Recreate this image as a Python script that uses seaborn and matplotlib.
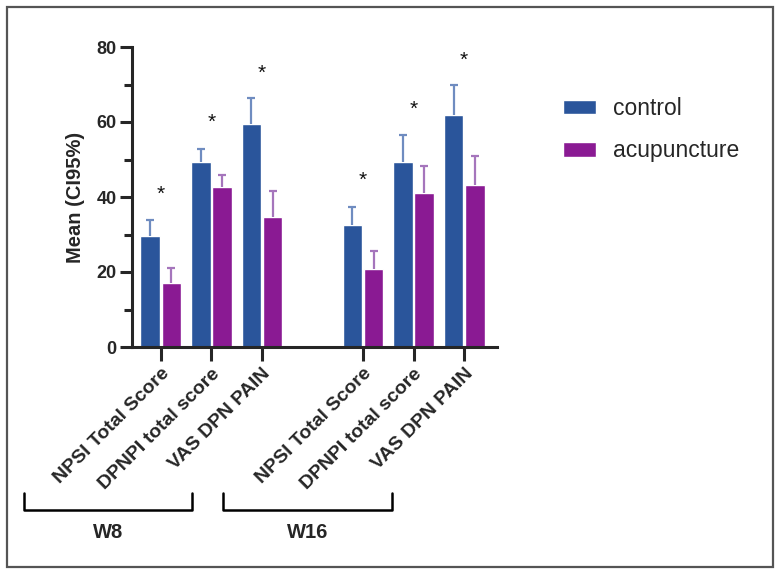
import pandas as pd
import matplotlib
matplotlib.use("Agg")
import matplotlib.pyplot as plt
from matplotlib.lines import Line2D
from matplotlib.patches import Rectangle
from matplotlib.ticker import MultipleLocator
import seaborn as sns

# ── Data ──────────────────────────────────────
MEASURES   = ["NPSI Total Score", "DPNPI total score", "VAS DPN PAIN"]
WEEKS      = ["W8", "W16"]
GROUPS     = ["control", "acupuncture"]

CONTROL_MEAN  = [29.6, 49.3, 59.4, 32.6, 49.3, 61.8]
CONTROL_UPPER = [33.8, 52.7, 66.4, 37.3, 56.5, 69.8]
ACU_MEAN      = [17.1, 42.6, 34.8, 20.8, 41.0, 43.1]
ACU_UPPER     = [21.2, 45.8, 41.6, 25.5, 48.3, 50.9]
STAR_Y        = [41.6, 60.8, 74.0, 45.5, 64.5, 77.5]

COLORS     = {"control": "#2A559B", "acupuncture": "#8A1A93"}
ERR_COLORS = {"control": "#6F8CC0", "acupuncture": "#A575BC"}

# slot order: 3 measures, one empty slot, 3 measures
ORDER = [f"W8|{m}" for m in MEASURES] + ["gap"] + [f"W16|{m}" for m in MEASURES]
keys = [k for k in ORDER if k != "gap"]

df = pd.DataFrame({
    "slot": keys * 2,
    "group": ["control"] * 6 + ["acupuncture"] * 6,
    "mean": CONTROL_MEAN + ACU_MEAN,
    "upper": CONTROL_UPPER + ACU_UPPER,
})

# ── Plot ──────────────────────────────────────
sns.set_style("ticks")
plt.rcParams["font.family"] = ["Liberation Sans", "DejaVu Sans"]

W, H = 782, 574
fig = plt.figure(figsize=(W / 100, H / 100), dpi=100)
ax = fig.add_axes([132 / W, 1 - 347 / H, (497 - 132) / W, (347 - 47) / H])

sns.barplot(data=df, x="slot", y="mean", hue="group", order=ORDER,
            hue_order=GROUPS, palette=COLORS, width=0.84, gap=0.08,
            errorbar=None, saturation=1, legend=True, ax=ax)

# upward-only CI bars, placed on the drawn bars
for cont, grp in zip(ax.containers, GROUPS):
    sub = df[df["group"] == grp].set_index("slot")
    for bar in cont:
        xc = bar.get_x() + bar.get_width() / 2
        slot = ORDER[int(round(xc))]
        m, u = sub.loc[slot, "mean"], sub.loc[slot, "upper"]
        eb = ax.errorbar(xc, m, yerr=[[0], [u - m]], fmt="none",
                         ecolor=ERR_COLORS[grp], elinewidth=1.6, capsize=3,
                         capthick=1.6, zorder=1)
        eb[1][0].set_visible(False)   # no cap at the bar top

# significance stars
for i, k in enumerate(keys):
    ax.text(ORDER.index(k), STAR_Y[i] - 1.0, "*", ha="center", va="center",
            fontsize=15, color="#111111")

ax.set_ylim(0, 80)
ax.set_xlim(-0.57, 6.65)
ax.yaxis.set_major_locator(MultipleLocator(20))
ax.yaxis.set_minor_locator(MultipleLocator(10))
tick_pos = [ORDER.index(k) for k in keys]
ax.set_xticks(tick_pos)
ax.set_xticklabels(MEASURES * 2, rotation=45, ha="right",
                   rotation_mode="anchor", fontsize=14, fontweight="bold")
for lab in ax.get_yticklabels():
    lab.set_fontweight("bold")
ax.tick_params(axis="y", which="major", length=9, width=2.2, labelsize=13, pad=2)
ax.tick_params(axis="y", which="minor", length=6, width=2.2)
ax.tick_params(axis="x", length=10, width=2.2, pad=3)
ax.set_xlabel("")
ax.set_ylabel("Mean (CI95%)", fontsize=14.5, fontweight="bold", labelpad=8)
for s in ["left", "bottom"]:
    ax.spines[s].set_linewidth(2.2)
sns.despine(ax=ax)

# legend
leg = ax.legend(loc="upper left", bbox_to_anchor=(563 / W, 1 - 97 / H),
                bbox_transform=fig.transFigure, frameon=False, fontsize=16.5,
                handlelength=1.45, handleheight=0.6, handletextpad=0.75,
                labelspacing=0.85, borderpad=0, borderaxespad=0)

# week brackets
def fx(px): return px / W
def fy(py): return 1 - py / H

for (x0, x1), label in zip([(24, 192), (223, 392)], WEEKS):
    fig.add_artist(Line2D([fx(x0), fx(x0), fx(x1), fx(x1)],
                          [fy(493), fy(510), fy(510), fy(493)],
                          color="black", lw=1.8))
    fig.text(fx((x0 + x1) / 2), fy(532), label, ha="center", va="center",
             fontsize=14.5, fontweight="bold")

# outer frame
fig.add_artist(Rectangle((fx(7), fy(567)), fx(773) - fx(7), fy(7) - fy(567),
                         transform=fig.transFigure, fill=False,
                         edgecolor="#555555", lw=1.6))

fig.savefig("out.png", dpi=100)
